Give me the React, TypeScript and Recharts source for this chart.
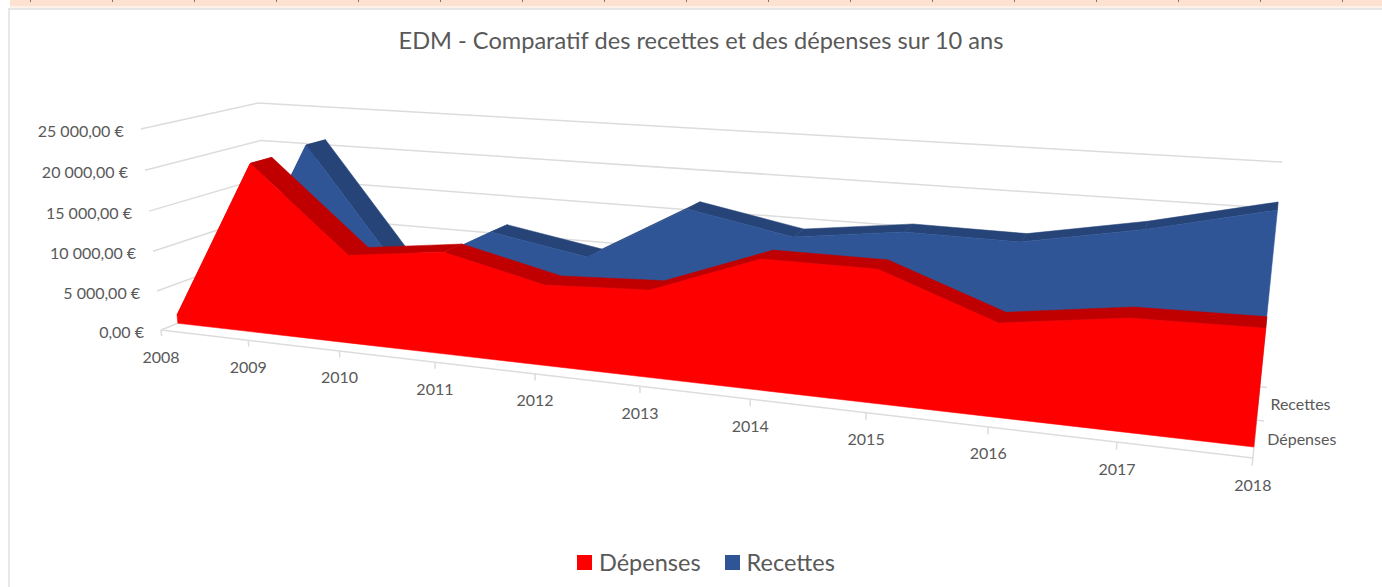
import { Area, ComposedChart, Legend, ReferenceLine, Scatter, XAxis, YAxis } from 'recharts'

const W = 1382
const H = 587

const years = ['2008', '2009', '2010', '2011', '2012', '2013', '2014', '2015', '2016', '2017', '2018']
const depenses = [1080, 21100, 10900, 12350, 9590, 10170, 14760, 14750, 10180, 11970, 12200]
const recettes = [1200, 21460, 5970, 12260, 10190, 16980, 14670, 16240, 16130, 18500, 21500]
const yTicks = [0, 5000, 10000, 15000, 20000, 25000]
const yTickLabels = ['0,00 €', '5 000,00 €', '10 000,00 €', '15 000,00 €', '20 000,00 €', '25 000,00 €']
const seriesNames = ['Dépenses', 'Recettes']

const RED = '#ff0000'
const RED_TOP = '#c00000'
const BLUE = '#2f5597'
const BLUE_TOP = '#264478'
const GRID = '#dcdcdc'
const TEXT = '#595959'

type Pt = { x: number; y: number }

// the 3d box of the excel chart: i = year index, v = euros, d = depth 0..1
function project(i: number, v: number, d: number): Pt {
  const u = i / 10
  const t = v / 25000
  const w = 1 - 0.2186 * u + 0.1079 * d - 0.0354 * t
  return {
    x: (161 + 818 * u + 141 * d - 25.2 * t) / w,
    y: (330 + 27.9 * u - 13.9 * d - 205.6 * t) / w,
  }
}

// turn an x-monotone polygon into rows for a range area
function toBand(poly: Pt[]) {
  const xs = [...new Set(poly.map((p) => p.x))].sort((a, b) => a - b)
  return xs.map((x) => {
    const ys: number[] = []
    poly.forEach((a, k) => {
      const b = poly[(k + 1) % poly.length]
      if (x < Math.min(a.x, b.x) || x > Math.max(a.x, b.x)) return
      if (a.x === b.x) ys.push(a.y, b.y)
      else ys.push(a.y + ((x - a.x) / (b.x - a.x)) * (b.y - a.y))
    })
    return { x, band: [Math.min(...ys), Math.max(...ys)] }
  })
}

function frontFace(values: number[], d: number) {
  const top = values.map((v, i) => project(i, v, d))
  return toBand([...top, project(10, 0, d), project(0, 0, d)])
}

function topFaces(values: number[], d0: number, d1: number) {
  return values.slice(1).map((v, k) =>
    toBand([
      project(k, values[k], d0),
      project(k + 1, v, d0),
      project(k + 1, v, d1),
      project(k, values[k], d1),
    ]),
  )
}

const gridLines: Pt[][] = [
  ...yTicks.flatMap((v) => [
    [project(0, v, 0), project(0, v, 1)],
    [project(0, v, 1), project(10, v, 1)],
  ]),
  [project(0, 0, 0), project(10, 0, 0)],
  [project(10, 0, 0), project(10, 0, 1)],
  ...years.map((_, i) => [project(i, 0, 0), project(i, -800, 0)]),
  ...[0.5, 1].map((d) => [project(10, 0, d), project(10.06, 0, d)]),
]

const labelRows = [
  { x: 701, y: 40, text: 'EDM - Comparatif des recettes et des dépenses sur 10 ans', anchor: 'middle', size: 23.6 },
  ...yTicks.map((v, k) => {
    const p = project(0, v, 0)
    return { x: p.x - 17, y: p.y + 1.5, text: yTickLabels[k], anchor: 'end', size: 16 }
  }),
  ...years.map((text, i) => {
    const p = project(i, 0, 0)
    return { x: p.x, y: p.y + 26, text, anchor: 'middle', size: 16 }
  }),
  ...seriesNames.map((text, k) => {
    const p = project(10, 0, 0.25 + k * 0.5)
    return { x: p.x + 12.5, y: p.y + 0.5, text, anchor: 'start', size: 16 }
  }),
]

function LabelText(p: any) {
  const row = p.payload
  return (
    <text x={p.cx} y={p.cy} textAnchor={row.anchor} dominantBaseline="central" fontSize={row.size} fill={TEXT} fontFamily="Lato">
      {row.text}
    </text>
  )
}

// absolute so the legend reserves no room and the plot stays the full page
function LegendBox() {
  const items = [
    { name: seriesNames[0], color: RED },
    { name: seriesNames[1], color: BLUE },
  ]
  return (
    <div
      style={{
        position: 'absolute', left: 577, top: 0, display: 'flex', gap: 24, whiteSpace: 'nowrap',
        fontFamily: 'Lato', fontSize: 23.5, color: TEXT, lineHeight: '30px',
      }}
    >
      {items.map((it) => (
        <div key={it.name} style={{ display: 'flex', alignItems: 'center', gap: 7 }}>
          <span style={{ width: 15, height: 15, background: it.color, display: 'inline-block' }} />
          {it.name}
        </div>
      ))}
    </div>
  )
}

function areaFor(rows: any[], color: string, key: string) {
  return (
    <Area
      key={key}
      data={rows}
      dataKey="band"
      type="linear"
      fill={color}
      fillOpacity={1}
      stroke={color}
      strokeWidth={0.5}
      dot={false}
      activeDot={false}
      legendType="none"
      isAnimationActive={false}
    />
  )
}

export default function App() {
  return (
    <div style={{ position: 'absolute', left: 0, top: 0, width: W, height: H, background: '#fff', overflow: 'hidden' }}>
      <div
        style={{
          position: 'absolute', left: 10, right: 0, top: 0, height: 6, backgroundColor: '#fde2d2',
          backgroundImage: 'linear-gradient(90deg, #8a7468 1px, transparent 1px)', backgroundSize: '82px 2px',
          backgroundRepeat: 'repeat-x', backgroundPosition: '20px 0',
        }}
      />
      <div style={{ position: 'absolute', left: 10, right: 0, top: 6, height: 2, background: '#fdf1ea' }} />
      <div style={{ position: 'absolute', left: 8, right: 0, top: 8, bottom: 0, borderTop: '2px solid #e4e6e8', borderLeft: '2px solid #e8e8e8' }} />
      <div style={{ position: 'absolute', left: 0, top: 0 }}>
        <ComposedChart width={W} height={H} margin={{ top: 0, right: 0, bottom: 0, left: 0 }}>
          <XAxis type="number" dataKey="x" domain={[0, W]} hide />
          <YAxis type="number" dataKey="y" domain={[0, H]} reversed hide />
          {gridLines.map((seg, k) => (
            <ReferenceLine key={k} segment={seg} stroke={GRID} strokeWidth={1.5} ifOverflow="visible" zIndex={-1} />
          ))}
          {topFaces(recettes, 0.638, 0.825).map((rows, k) => areaFor(rows, BLUE_TOP, `rt${k}`))}
          {areaFor(frontFace(recettes, 0.638), BLUE, 'rf')}
          {topFaces(depenses, 0.138, 0.325).map((rows, k) => areaFor(rows, RED_TOP, `dt${k}`))}
          {areaFor(frontFace(depenses, 0.138), RED, 'df')}
          <Scatter data={labelRows} shape={LabelText} isAnimationActive={false} legendType="none" />
          <Legend content={LegendBox} verticalAlign="top" wrapperStyle={{ left: 0, top: 547, width: W, height: 0 }} />
        </ComposedChart>
      </div>
    </div>
  )
}
